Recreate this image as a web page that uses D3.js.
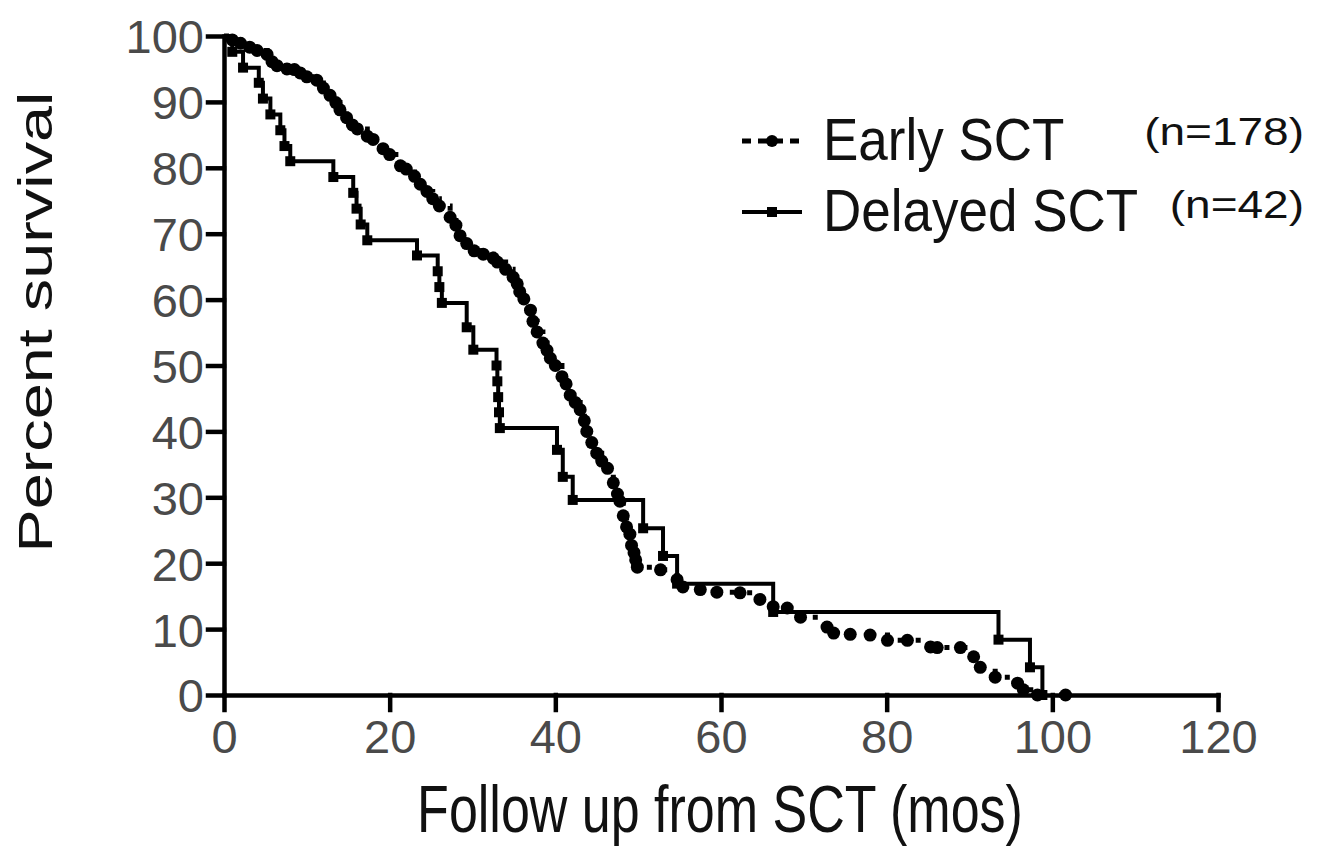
<!DOCTYPE html>
<html>
<head>
<meta charset="utf-8">
<script src="https://cdn.jsdelivr.net/npm/d3@7"></script>
<style>
  body { margin: 0; background: #fff; }
  text { font-family: "Liberation Sans", Arial, sans-serif; }
</style>
</head>
<body>
<div id="chart"></div>
<script>
// tick values
const xTicks = [0, 20, 40, 60, 80, 100, 120];
const yTicks = [0, 10, 20, 30, 40, 50, 60, 70, 80, 90, 100];

// Kaplan-Meier points: [months, percent survival]
const earlySCT = [
  [0, 100], [1.0, 99.4], [2.0, 98.9], [3.1, 98.3], [4.0, 97.8], [5.2, 97.2], [5.8, 96.1],
  [6.4, 95.5], [7.6, 95.0], [8.5, 94.9], [9.2, 94.4], [10.0, 93.8], [11.2, 93.3], [12.0, 92.1],
  [12.8, 91.0], [13.5, 89.9], [14.0, 88.8], [14.8, 87.6], [15.5, 86.5], [16.1, 85.9], [17.3, 84.8],
  [18.0, 84.3], [19.2, 82.9], [20.0, 82.0], [21.3, 80.3], [22.0, 79.8], [23.0, 78.7], [23.7, 77.5],
  [24.5, 76.4], [25.2, 75.3], [26.0, 74.2], [27.3, 72.5], [28.0, 71.3], [28.5, 69.7], [29.3, 68.5],
  [30.2, 67.4], [31.3, 66.9], [32.5, 66.3], [33.0, 65.7], [34.0, 64.6], [34.9, 63.4], [35.4, 62.4],
  [35.7, 61.2], [36.2, 60.1], [37.0, 58.4], [37.3, 56.7], [37.8, 55.1], [38.5, 53.4], [39.0, 52.3],
  [39.4, 51.1], [40.0, 50.0], [40.8, 48.3], [41.3, 47.2], [41.8, 45.5], [42.4, 44.4], [43.0, 43.3],
  [43.5, 41.6], [43.8, 40.0], [44.4, 38.3], [45.0, 36.7], [45.6, 35.5], [46.3, 34.4], [47.0, 32.2],
  [47.5, 30.5], [47.8, 29.4], [48.2, 27.2], [48.6, 25.5], [49.0, 24.4], [49.2, 22.7], [49.5, 21.6],
  [49.7, 20.5], [49.9, 19.4], [52.7, 19.0], [54.7, 17.5], [55.4, 16.4], [57.5, 16.0], [59.5, 15.6],
  [62.3, 15.5], [64.7, 14.5], [66.3, 13.4], [68.0, 13.2], [69.6, 11.8], [72.8, 10.3], [73.6, 9.4],
  [75.6, 9.2], [78.0, 9.1], [80.1, 8.3], [82.5, 8.3], [85.3, 7.3], [86.1, 7.2], [88.9, 7.2],
  [90.5, 5.8], [91.3, 4.2], [93.1, 2.7], [95.8, 1.8], [96.5, 0.8], [98.2, 0], [101.6, 0]
];
const delayedSCT = [
  [0, 100], [1.0, 97.6], [2.3, 95.2], [4.2, 92.9], [4.7, 90.5], [5.6, 88.1], [6.8, 85.7],
  [7.3, 83.3], [8.0, 81.0], [13.2, 78.6], [15.6, 76.2], [16.0, 73.8], [16.5, 71.4], [17.3, 69.0],
  [23.3, 66.7], [25.8, 64.3], [26.0, 61.9], [26.3, 59.5], [29.3, 55.8], [30.1, 52.4], [32.9, 50.0],
  [33.0, 47.6], [33.1, 45.2], [33.2, 42.9], [33.3, 40.5], [40.2, 37.2], [40.9, 33.1], [42.1, 29.6],
  [50.6, 25.3], [53.0, 21.1], [54.7, 16.9], [66.3, 12.6], [93.5, 8.4], [97.3, 4.2], [98.8, 0]
];
const legendNames = ["Early SCT", "Delayed SCT"];
const legendCounts = ["(n=178)", "(n=42)"];

const margin = { top: 36, right: 107, bottom: 160, left: 224 };
const width = 1325 - margin.left - margin.right;
const height = 855 - margin.top - margin.bottom;

const svg = d3.select("#chart").append("svg")
  .attr("width", 1325)
  .attr("height", 855);

const g = svg.append("g")
  .attr("transform", "translate(" + margin.left + "," + margin.top + ")");

const x = d3.scaleLinear().domain([0, 120]).range([0, width]);
const y = d3.scaleLinear().domain([0, 100]).range([height, 0]);

// axes
const xAxis = g.append("g")
  .attr("class", "x axis")
  .attr("transform", "translate(0," + height + ")")
  .call(d3.axisBottom(x).tickValues(xTicks).tickSize(15).tickSizeOuter(0).tickPadding(10));

const yAxis = g.append("g")
  .attr("class", "y axis")
  .call(d3.axisLeft(y).tickValues(yTicks).tickSize(16).tickSizeOuter(0).tickPadding(4));

g.selectAll(".axis path, .axis line")
  .attr("stroke", "#000")
  .attr("stroke-width", 4.5)
  .attr("stroke-linecap", "square");

g.selectAll(".axis text")
  .attr("fill", "#4a4a4a")
  .style("font-size", "47px");

yAxis.selectAll("text").attr("dy", "0.36em");

// curves
const line = d3.line()
  .x(d => x(d[0]))
  .y(d => y(d[1]))
  .curve(d3.curveStepAfter);

g.append("path")
  .datum(delayedSCT)
  .attr("fill", "none")
  .attr("stroke", "#000")
  .attr("stroke-width", 4)
  .attr("d", line);

g.selectAll(".sq")
  .data(delayedSCT.slice(1))
  .enter().append("rect")
  .attr("class", "sq")
  .attr("x", d => x(d[0]) - 5)
  .attr("y", d => y(d[1]) - 5)
  .attr("width", 10)
  .attr("height", 10)
  .attr("fill", "#000");

g.append("path")
  .datum(earlySCT)
  .attr("fill", "none")
  .attr("stroke", "#000")
  .attr("stroke-width", 5)
  .attr("stroke-dasharray", "5,13")
  .attr("d", line);

g.selectAll(".dot")
  .data(earlySCT.slice(1))
  .enter().append("circle")
  .attr("class", "dot")
  .attr("cx", d => x(d[0]))
  .attr("cy", d => y(d[1]))
  .attr("r", 6.5)
  .attr("fill", "#000");

// axis titles (the source figure is stretched vertically)
svg.append("text")
  .attr("transform", "translate(720,832) scale(1,1.28)")
  .attr("text-anchor", "middle")
  .attr("fill", "#111")
  .style("font-size", "52px")
  .text("Follow up from SCT (mos)");

svg.append("text")
  .attr("transform", "translate(52,322) scale(1,1.35) rotate(-90)")
  .attr("text-anchor", "middle")
  .attr("fill", "#111")
  .style("font-size", "48px")
  .text("Percent survival");

// legend
const legend = svg.append("g").attr("class", "legend");
const rowY = [141, 212];

legend.append("line")
  .attr("x1", 742).attr("x2", 802).attr("y1", rowY[0]).attr("y2", rowY[0])
  .attr("stroke", "#000").attr("stroke-width", 5).attr("stroke-dasharray", "9,7");
legend.append("circle")
  .attr("cx", 772).attr("cy", rowY[0]).attr("r", 6).attr("fill", "#000");

legend.append("line")
  .attr("x1", 742).attr("x2", 802).attr("y1", rowY[1]).attr("y2", rowY[1])
  .attr("stroke", "#000").attr("stroke-width", 4);
legend.append("rect")
  .attr("x", 767).attr("y", rowY[1] - 5).attr("width", 10).attr("height", 10).attr("fill", "#000");

legend.selectAll(".lname")
  .data(legendNames)
  .enter().append("text")
  .attr("class", "lname")
  .attr("transform", (d, i) => "translate(823," + (rowY[i] + 19) + ") scale(1,1.1)")
  .attr("fill", "#111")
  .style("font-size", "53px")
  .text(d => d);

legend.selectAll(".lcount")
  .data(legendCounts)
  .enter().append("text")
  .attr("class", "lcount")
  .attr("transform", (d, i) => "translate(1304," + (rowY[i] + 4 + i * 2) + ") scale(1,0.86)")
  .attr("text-anchor", "end")
  .attr("fill", "#111")
  .style("font-size", "46px")
  .text(d => d);
</script>
</body>
</html>
